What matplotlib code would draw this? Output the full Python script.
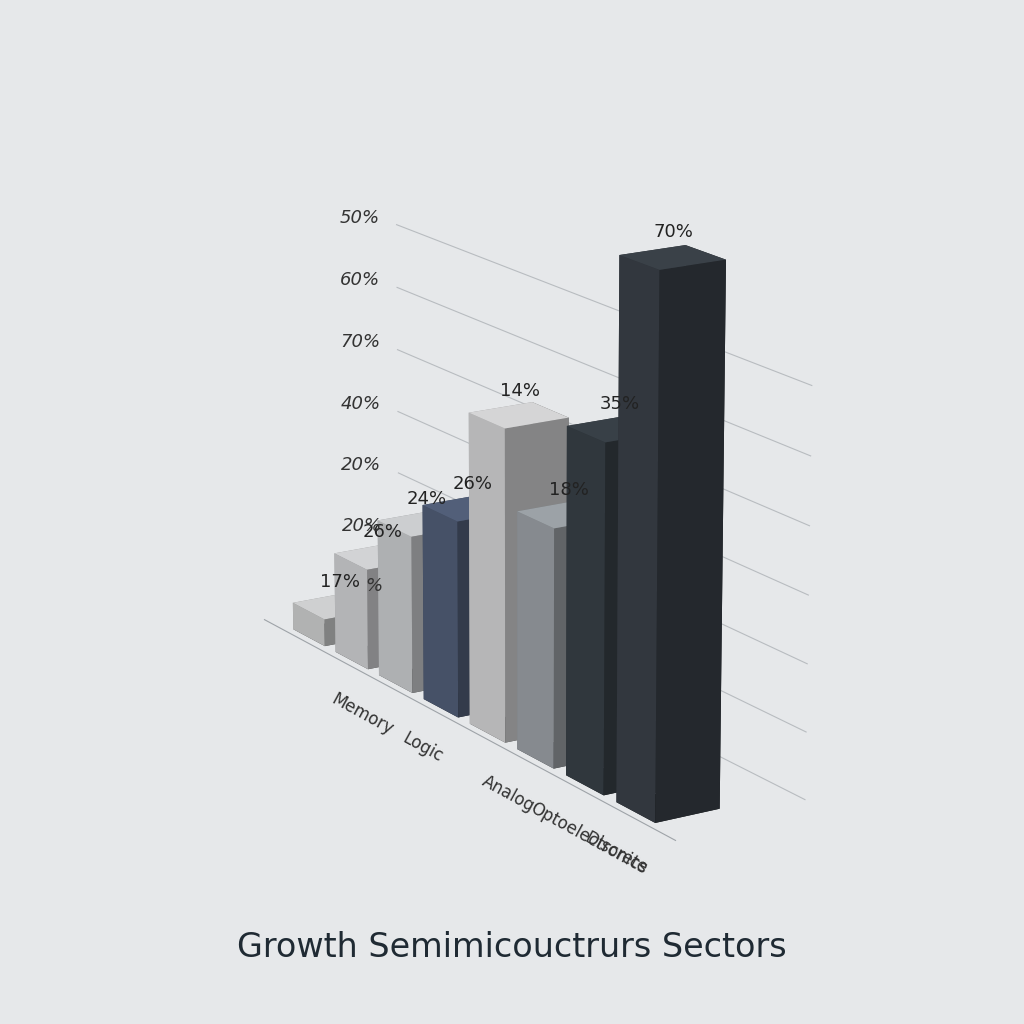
import matplotlib
matplotlib.use("Agg")
import matplotlib.pyplot as plt
from matplotlib.colors import LightSource
import numpy as np

# values
bar_labels = ["17%", "26%", "24%", "26%", "14%", "18%", "35%", "70%"]
bar_heights = [6, 22, 34, 42, 66, 50, 72, 110]
bar_colors = ["#d9dadb", "#dcdddf", "#d6d8da", "#56647f", "#dfe0e1", "#a4aaaf", "#3b434b", "#3d444c"]
tick_labels = ["%", "20%", "20%", "40%", "70%", "60%", "50%"]
tick_values = [0, 14, 28, 42, 56, 70, 84]
categories = ["Memory", "Logic", "Analog", "Optoelectronics", "Discrete"]
category_pos = [1.6, 3.2, 4.9, 5.9, 7.0]

bg = "#e6e8ea"
fig = plt.figure(figsize=(10.24, 10.24), dpi=100, facecolor=bg)
ax = fig.add_axes([0.02, 0.1, 0.96, 0.9], projection="3d", facecolor=bg)
ax.view_init(elev=16, azim=-32)
ax.set_box_aspect((3.4, 0.7, 2.4))

n = len(bar_heights)
xs = np.arange(n)
ax.bar3d(xs, np.zeros(n), np.zeros(n), 0.75, 0.75, bar_heights,
         color=bar_colors, shade=True, edgecolor="none",
         lightsource=LightSource(azdeg=200, altdeg=60))

for x, h, lab in zip(xs, bar_heights, bar_labels):
    ax.text(x + 0.35, 0.4, h + 3, lab, ha="center", va="bottom", fontsize=13, color="#222")

# grid lines on the back wall
for v, lab in zip(tick_values, tick_labels):
    ax.plot([-0.5, 8], [1.6, 1.6], [v, v], color="#b8bcc0", lw=0.8)
    ax.text(-0.9, 1.6, v, lab, fontsize=13, style="italic", color="#333", ha="right", va="center")
ax.plot([-0.5, 8.3], [-0.1, -0.1], [0, 0], color="#9ea3a8", lw=0.8)

for c, p in zip(categories, category_pos):
    ax.text(p, -0.4, -4, c, zdir="x", fontsize=12, color="#333", ha="left", va="top")

ax.set_xlim(-0.5, 8)
ax.set_ylim(0, 1.6)
ax.set_zlim(0, 110)
ax.set_axis_off()

fig.text(0.5, 0.065, "Growth Semimicouctrurs Sectors", ha="center", fontsize=24,
         color="#1f2a33", fontweight="medium")
fig.savefig("out.png", dpi=100, facecolor=bg)
